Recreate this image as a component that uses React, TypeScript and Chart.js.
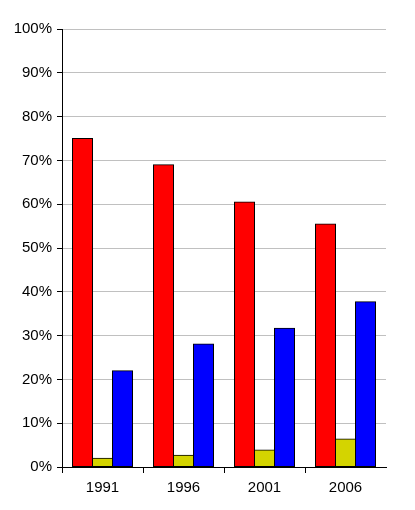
import React, { useEffect, useRef } from "react";
import { Chart, registerables } from "chart.js";

Chart.register(...registerables);

const categories = ["1991", "1996", "2001", "2006"];
const redValues = [75.0, 69.0, 60.5, 55.5];
const yellowValues = [2.0, 2.7, 3.9, 6.4];
const blueValues = [22.0, 28.1, 31.7, 37.7];
const yTickStep = 10;

export default function App() {
  const ref = useRef<HTMLCanvasElement | null>(null);

  useEffect(() => {
    document.body.style.margin = "0";
    const canvas = ref.current;
    if (!canvas) return;
    const font = { family: "'Liberation Sans', Arial, sans-serif", size: 15 };
    const barStyle = {
      borderColor: "#000",
      borderWidth: 1,
      borderSkipped: false as const,
      inflateAmount: 0.5,
    };
    const chart = new Chart(canvas, {
      type: "bar",
      data: {
        labels: categories,
        datasets: [
          { data: redValues, backgroundColor: "#ff0000", ...barStyle },
          { data: yellowValues, backgroundColor: "#d4d400", ...barStyle },
          { data: blueValues, backgroundColor: "#0000ff", ...barStyle },
        ],
      },
      options: {
        responsive: false,
        animation: false,
        devicePixelRatio: 1,
        layout: { padding: { top: 29, right: 29, bottom: 0, left: 0 } },
        datasets: { bar: { categoryPercentage: 60 / 81, barPercentage: 1.0 } },
        plugins: { legend: { display: false }, tooltip: { enabled: false } },
        scales: {
          x: {
            afterFit: (s: any) => { s.height = 43; },
            grid: {
              offset: true,
              drawOnChartArea: false,
              drawTicks: true,
              tickLength: 6,
              tickColor: (ctx: any) => (ctx.type === "tick" ? "#000" : "rgba(0,0,0,0)"),
            },
            border: { display: true, color: "#000", width: 1 },
            ticks: { color: "#000", font, padding: 6 },
          },
          y: {
            min: 0,
            max: 100,
            afterFit: (s: any) => { s.width = 62; },
            grid: { color: "#c0c0c0", tickColor: "#000", tickLength: 5 },
            border: { display: true, color: "#000", width: 1 },
            ticks: {
              stepSize: yTickStep,
              color: "#000",
              font,
              padding: 5,
              callback: (v: any) => v + "%",
            },
          },
        },
      },
    });
    return () => chart.destroy();
  }, []);

  return <canvas ref={ref} width={415} height={510} style={{ display: "block" }} />;
}
